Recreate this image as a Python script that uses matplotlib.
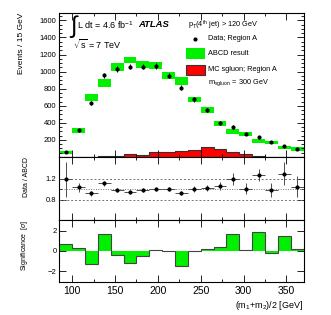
import matplotlib
matplotlib.use("Agg")
import matplotlib.pyplot as plt
from matplotlib.ticker import MultipleLocator, FixedLocator, NullFormatter, FuncFormatter
from matplotlib.patches import Rectangle
import numpy as np

plt.rcParams['font.family'] = ['Liberation Sans', 'DejaVu Sans']
plt.rcParams['mathtext.fontset'] = 'custom'
plt.rcParams['mathtext.rm'] = 'Liberation Sans'
plt.rcParams['mathtext.it'] = 'Liberation Sans:italic'

# bins of 15 GeV from 85 to 370
edges = [85, 100, 115, 130, 145, 160, 175, 190, 205, 220, 235, 250, 265, 280, 295, 310, 325, 340, 355, 370]

data = [55, 312, 632, 956, 1030, 1057, 1057, 1068, 951, 811, 675, 550, 398, 351, 273, 230, 172, 125, 97]
data_err = [8, 18, 25, 31, 32, 32, 32, 32, 31, 28, 26, 23, 20, 19, 17, 15, 13, 11, 10]
abcd = [50, 308, 698, 866, 1057, 1135, 1084, 1073, 951, 889, 675, 550, 390, 300, 273, 184, 172, 109, 94]
abcd_err = [16, 27, 40, 49, 47, 39, 39, 45, 43, 43, 29, 31, 29, 29, 25, 21, 21, 19, 19]
sgluon = [0, 0, 2, 8, 10, 30, 28, 55, 55, 70, 85, 115, 95, 55, 30, 12, 5, 2, 1]

ratio = [1.185, 1.03, 0.92, 1.11, 0.98, 0.94, 0.975, 1.005, 1.0, 0.92, 1.0, 1.02, 1.055, 1.19, 1.01, 1.265, 0.978, 1.29, 1.04]
ratio_err = [0.33, 0.08, 0.05, 0.05, 0.04, 0.04, 0.04, 0.04, 0.04, 0.04, 0.05, 0.05, 0.07, 0.12, 0.1, 0.12, 0.13, 0.22, 0.2]

signif = [0.66, 0.27, -1.31, 1.71, -0.43, -1.21, -0.52, 0.13, 0.02, -1.45, -0.02, 0.2, 0.43, 1.71, 0.1, 1.84, -0.23, 1.48, 0.2]

edges = np.array(edges)
centers = (edges[:-1] + edges[1:]) / 2
width = 15

W, H = 331, 315
fig = plt.figure(figsize=(W / 100, H / 100), dpi=100)

def box(l, t, r, b):
    return [l / W, 1 - b / H, (r - l) / W, (b - t) / H]

ax1 = fig.add_axes(box(59.3, 12.7, 303.6, 157))
ax2 = fig.add_axes(box(59.3, 157, 303.6, 220))
ax3 = fig.add_axes(box(59.3, 220, 303.6, 281.7))

green = '#00f000'
edgec = '#333333'
lfs = 5.3

# main panel
ax1.bar(edges[:-1], 2 * np.array(abcd_err), bottom=np.array(abcd) - np.array(abcd_err),
        width=width, align='edge', color=green, lw=0)
ax1.stairs(sgluon, edges, fill=True, color='#ff0000')
ax1.stairs(sgluon, edges, color=edgec, lw=0.8)
ax1.errorbar(centers, data, yerr=data_err, fmt='o', ms=2, color='k', elinewidth=0.7, capsize=0)
ax1.set_ylim(0, 1690)

ax1.text(0.045, 0.90, u'\u222b', transform=ax1.transAxes, fontsize=17, va='center', ha='left')
ax1.text(0.073, 0.915, r'L dt = 4.6 fb$^{-1}$', transform=ax1.transAxes, fontsize=6.5, va='center')
ax1.text(0.325, 0.915, 'ATLAS', transform=ax1.transAxes, fontsize=6.8, va='center',
         fontweight='bold', style='italic')
ax1.text(0.057, 0.78, r'$\sqrt{\mathrm{s}}$ = 7 TeV', transform=ax1.transAxes, fontsize=6.5, va='center')

# legend
ax1.text(0.527, 0.915, r'p$_\mathrm{T}$(4$^\mathrm{th}$ jet) > 120 GeV', transform=ax1.transAxes,
         fontsize=lfs, va='center')
ax1.plot([0.555], [0.818], 'o', ms=2, color='k', transform=ax1.transAxes)
ax1.text(0.609, 0.818, 'Data; Region A', transform=ax1.transAxes, fontsize=lfs, va='center')
ax1.add_patch(Rectangle((0.519, 0.676), 0.077, 0.076, transform=ax1.transAxes, color=green, lw=0))
ax1.text(0.609, 0.714, 'ABCD result', transform=ax1.transAxes, fontsize=lfs, va='center')
ax1.add_patch(Rectangle((0.519, 0.565), 0.077, 0.076, transform=ax1.transAxes, facecolor='#ff0000',
                        edgecolor=edgec, lw=0.8))
ax1.text(0.609, 0.603, 'MC sgluon; Region A', transform=ax1.transAxes, fontsize=lfs, va='center')
ax1.text(0.609, 0.513, r'm$_\mathrm{sgluon}$ = 300 GeV', transform=ax1.transAxes, fontsize=lfs, va='center')

ax1.yaxis.set_major_locator(MultipleLocator(200))
ax1.yaxis.set_minor_locator(MultipleLocator(50))
ax1.yaxis.set_major_formatter(FuncFormatter(lambda v, p: '' if v == 0 else '%d' % v))
ax1.set_ylabel('Events / 15 GeV', fontsize=6, loc='top')

# ratio panel
for yv, ls in [(0.8, (0, (2, 2))), (1.0, (0, (1, 1.5))), (1.2, (0, (2, 2)))]:
    ax2.axhline(yv, color='0.45', lw=0.7, ls=ls)
ax2.errorbar(centers, ratio, yerr=ratio_err, xerr=width / 2, fmt='o', ms=2, color='k',
             ecolor='0.3', elinewidth=0.7, capsize=0)
ax2.set_ylim(0.41, 1.61)
ax2.yaxis.set_major_locator(FixedLocator([0.8, 1.2]))
ax2.yaxis.set_minor_locator(FixedLocator([1.0]))
ax2.set_ylabel('Data / ABCD', fontsize=5, loc='top')

# significance panel
ax3.stairs(signif, edges, fill=True, color=green, baseline=0)
ax3.stairs(signif, edges, color='#444444', lw=0.8, baseline=None)
ax3.set_ylim(-3.05, 3.05)
ax3.yaxis.set_major_locator(FixedLocator([-2, 0, 2]))
ax3.set_ylabel(r'Significance  [$\sigma$]', fontsize=5, loc='top')
ax3.set_xlabel(r'(m$_1$+m$_2$)/2 [GeV]', fontsize=6.5, loc='right', labelpad=2)

for ax in (ax1, ax2, ax3):
    ax.set_xlim(85, 370)
    ax.xaxis.set_major_locator(MultipleLocator(50))
    ax.xaxis.set_minor_locator(MultipleLocator(25))
    ax.tick_params(which='both', direction='in', top=True, right=True, labelsize=5.5, width=0.6, pad=2)
    ax.tick_params(which='major', length=5)
    ax.tick_params(which='minor', length=2.5)
    for s in ax.spines.values():
        s.set_linewidth(0.8)
ax1.yaxis.set_label_coords(-0.14, 1.0)
ax2.yaxis.set_label_coords(-0.12, 1.0)
ax3.yaxis.set_label_coords(-0.12, 1.0)
ax1.xaxis.set_major_formatter(NullFormatter())
ax2.xaxis.set_major_formatter(NullFormatter())
ax3.tick_params(axis='x', labelsize=7.5, pad=3)

fig.savefig('out.png', dpi=100)
